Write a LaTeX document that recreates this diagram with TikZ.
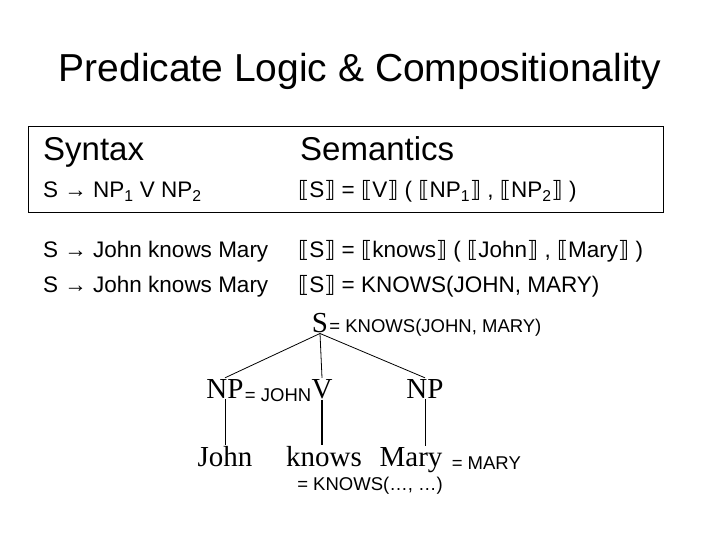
\documentclass[tikz,border=0pt]{standalone}
\usepackage{fontspec}
\setmainfont{Liberation Sans}
\newfontfamily\treef{Liberation Serif}
\newfontfamily\djvfont{DejaVu Sans}
\newcommand{\lb}{{\djvfont ⟦}}
\newcommand{\rb}{{\djvfont ⟧}}
\begin{document}
\begin{tikzpicture}[x=1pt,y=-1pt,
  sans/.style={inner sep=0pt,anchor=base west,font=\fontsize{22.5}{24}\selectfont},
  big/.style={inner sep=0pt,anchor=base west,font=\fontsize{33}{36}\selectfont},
  tr/.style={inner sep=1pt,anchor=base,font=\treef\fontsize{29}{30}\selectfont},
  lab/.style={inner sep=0pt,anchor=base west,font=\fontsize{18.5}{20}\selectfont},
  edge/.style={line width=0.8pt}]
\useasboundingbox (0,0) rectangle (720,540);
\node[inner sep=0pt,anchor=base,font=\fontsize{39}{42}\selectfont] (title) at (360,82) {Predicate Logic \& Compositionality};
\draw[line width=0.8pt] (28,126) rectangle (663,212);
\node[big] (syn) at (43,161) {Syntax};
\node[big] (sem) at (300,161) {Semantics};
\node[sans] (r1) at (43,198) {S → NP\textsubscript{1} V NP\textsubscript{2}};
\node[sans] (s1) at (298,198) {\lb S\rb{} = \lb V\rb{} ( \lb NP\textsubscript{1}\rb{} , \lb NP\textsubscript{2}\rb{} )};
\node[sans] (r2) at (43,258) {S → John knows Mary};
\node[sans] (s2) at (298,258) {\lb S\rb{} = \lb knows\rb{} ( \lb John\rb{} , \lb Mary\rb{} )};
\node[sans] (r3) at (43,292) {S → John knows Mary};
\node[sans] (s3) at (298,292) {\lb S\rb{} = KNOWS(JOHN, MARY)};
% tree
\node[tr] (S) at (320,332) {S};
\node[tr] (NP1) at (225,398) {NP};
\node[tr] (V) at (322,398) {V};
\node[tr] (NP2) at (425,398) {NP};
\node[tr] (J) at (225,466) {John};
\node[tr] (K) at (324,466) {knows};
\node[tr] (M) at (411,466) {Mary};
\draw[edge] (S.south) -- (NP1.north);
\draw[edge] (S.south) -- (V.north);
\draw[edge] (S.south) -- (NP2.north);
\draw[edge] (NP1.south) -- (NP1.south|-J.north);
\draw[line width=1.5pt] (V.south) -- (V.south|-K.north);
\draw[edge] (NP2.south) -- (NP2.south|-M.north);
\node[lab] (lS) at (S.base east) {= KNOWS(JOHN, MARY)};
\node[lab] (lNP) at ([yshift=-3pt]NP1.base east) {= JOHN};
\node[lab] (lM) at ([xshift=8pt,yshift=-3pt]M.base east) {= MARY};
\node[lab,anchor=base] (lK) at (370,490) {= KNOWS(…, …)};
\end{tikzpicture}
\end{document}
